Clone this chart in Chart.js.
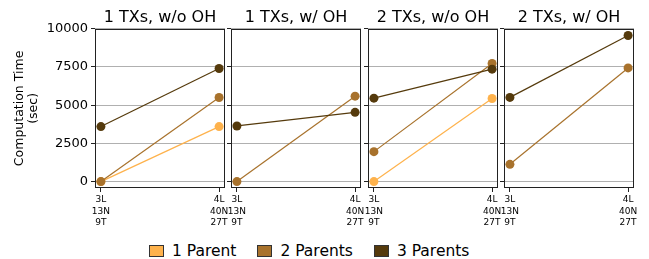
<!DOCTYPE html>
<html>
<head>
<meta charset="utf-8">
<script src="https://cdn.jsdelivr.net/npm/chart.js@4"></script>
<style>
  body { margin: 0; width: 649px; height: 259px; background: #fff; position: relative; overflow: hidden; font-family: "DejaVu Sans", sans-serif; }
  canvas { position: absolute; }
  .ttl { position: absolute; top: 9px; width: 130px; font-size: 16px; line-height: 16px; text-align: center; white-space: nowrap; color: #000; }
  #legend { position: absolute; left: 149px; top: 242px; height: 18px; display: flex; align-items: center; font-size: 15.5px; line-height: 18px; color: #000; }
  .item { display: flex; align-items: center; margin-right: 21px; }
  .sw { width: 15px; height: 12px; margin-right: 8px; box-sizing: border-box; border: 1px solid #333; }
</style>
</head>
<body>
<div id="legend"></div>
<script>
/* data */
const categories = [["3L", "13N", "9T"], ["4L", "40N", "27T"]];
const panelTitles = ["1 TXs, w/o OH", "1 TXs, w/ OH", "2 TXs, w/o OH", "2 TXs, w/ OH"];
const seriesNames = ["1 Parent", "2 Parents", "3 Parents"];
const seriesColors = ["#feb24c", "#a8722c", "#553a0c"];
// one entry per panel, null = series not shown
const onePar = [[0, 3600], null, [0, 5440], null];
const twoPar = [[0, 5500], [0, 5590], [1960, 7730], [1130, 7440]];
const threePar = [[3600, 7400], [3640, 4530], [5460, 7360], [5510, 9560]];
const yTicks = [0, 2500, 5000, 7500, 10000];

/* layout */
const panelLeft = [95, 231, 368, 504];
const panelW = 130;
const plotTop = 28, plotH = 160;

/* frame around each plot area */
const framePlugin = {
  id: "frame",
  afterDraw(chart) {
    const a = chart.chartArea, ctx = chart.ctx;
    ctx.save();
    ctx.strokeStyle = "#222";
    ctx.lineWidth = 1;
    ctx.strokeRect(Math.round(a.left) + 0.5, Math.round(a.top) + 0.5, Math.round(a.right - a.left) - 1, Math.round(a.bottom - a.top) - 1);
    ctx.restore();
  }
};

const allSeries = [onePar, twoPar, threePar];

panelTitles.forEach((title, p) => {
  const first = p === 0;
  const padL = first ? 0 : 6, padR = 8, padT = 10, yw = first ? 95 : 5, xh = 40;

  const cv = document.createElement("canvas");
  cv.width = padL + yw + panelW + padR;
  cv.height = padT + plotH + xh;
  cv.style.left = (panelLeft[p] - padL - yw) + "px";
  cv.style.top = (plotTop - padT) + "px";
  document.body.appendChild(cv);

  const t = document.createElement("div");
  t.className = "ttl";
  t.style.left = panelLeft[p] + "px";
  t.textContent = title;
  document.body.appendChild(t);

  const datasets = [];
  allSeries.forEach((s, k) => {
    if (!s[p]) return;
    datasets.push({
      label: seriesNames[k],
      data: s[p].map((v, i) => ({ x: i, y: v })),
      borderColor: seriesColors[k],
      backgroundColor: seriesColors[k],
      borderWidth: 1.2,
      pointRadius: 4.5,
      pointBorderWidth: 0,
      order: 3 - k,
      clip: false
    });
  });

  new Chart(cv, {
    type: "line",
    data: { datasets },
    options: {
      responsive: false,
      animation: false,
      layout: { padding: { left: padL, right: padR, top: padT, bottom: 0 } },
      plugins: { legend: { display: false }, tooltip: { enabled: false } },
      scales: {
        x: {
          type: "linear",
          min: -0.05,
          max: 1.05,
          afterBuildTicks: s => { s.ticks = categories.map((c, i) => ({ value: i })); },
          afterFit: s => { s.height = xh; },
          grid: { drawOnChartArea: false, drawTicks: true, tickLength: 4, color: "#222" },
          border: { display: false },
          ticks: {
            autoSkip: false, maxRotation: 0, padding: 2, color: "#000",
            font: { family: "DejaVu Sans", size: 9, lineHeight: 1.28 },
            callback: v => categories[Math.round(v)]
          }
        },
        y: {
          min: -420,
          max: 10000,
          afterBuildTicks: s => { s.ticks = yTicks.map(v => ({ value: v })); },
          afterFit: s => { s.width = yw; },
          grid: { color: "#b0b0b0", lineWidth: 1, drawTicks: true, tickLength: 4, tickColor: "#222" },
          border: { display: false },
          ticks: {
            padding: 3, color: "#000",
            font: { family: "DejaVu Sans", size: 13 },
            callback: v => first ? String(v) : ""
          },
          title: {
            display: first,
            text: ["Computation Time", "(sec)"],
            color: "#000",
            padding: { top: 13, bottom: 0 },
            font: { family: "DejaVu Sans", size: 12.5, lineHeight: 1.1 }
          }
        }
      }
    },
    plugins: [framePlugin]
  });
});

/* legend */
const legend = document.getElementById("legend");
seriesNames.forEach((name, k) => {
  const it = document.createElement("div");
  it.className = "item";
  it.innerHTML = `<span class="sw" style="background:${seriesColors[k]}"></span><span>${name}</span>`;
  legend.appendChild(it);
});
</script>
</body>
</html>
